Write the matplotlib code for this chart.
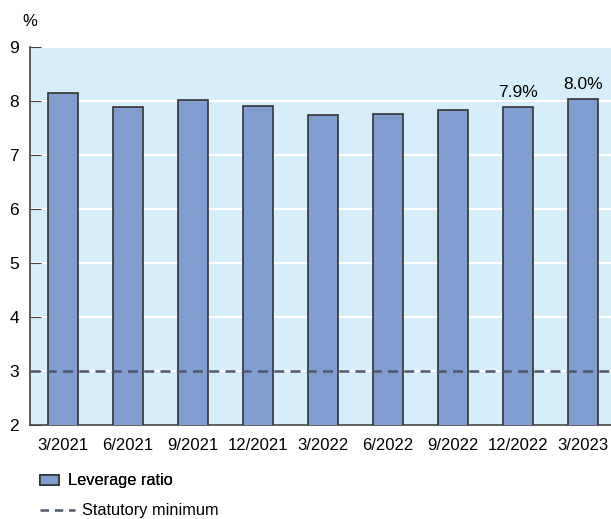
import matplotlib.pyplot as plt
from matplotlib.patches import Patch
from matplotlib.lines import Line2D

plt.rcParams['font.family'] = ['Liberation Sans', 'DejaVu Sans']

quarters = ['3/2021', '6/2021', '9/2021', '12/2021', '3/2022',
            '6/2022', '9/2022', '12/2022', '3/2023']
leverage = [8.15, 7.89, 8.02, 7.91, 7.75, 7.76, 7.83, 7.89, 8.04]
statutory_min = 3.0
labels = {7: '7.9%', 8: '8.0%'}

bar_color = '#809fd0'
dash_color = '#4d5868'

fig = plt.figure(figsize=(6.11, 5.19), dpi=100)
ax = fig.add_axes([30 / 611, 94 / 519, 581 / 611, 378 / 519])
ax.set_facecolor('#d6edfa')

x = range(len(quarters))
ax.bar(x, leverage, width=0.46, color=bar_color,
       edgecolor='#333333', linewidth=1.2, zorder=3)
ax.axhline(statutory_min, color=dash_color, linestyle=(0, (4, 2.5)),
           linewidth=1.8, zorder=4)

for i, txt in labels.items():
    ax.text(i, leverage[i] + 0.12, txt, ha='center', va='bottom', fontsize=12.5)

ax.set_ylim(2, 9)
ax.set_xlim(-0.51, 8.43)
ax.set_yticks(range(2, 10))
ax.grid(axis='y', color='white', linewidth=1.5, zorder=1)
ax.set_xticks(list(x))
ax.set_xticklabels(quarters)
ax.tick_params(axis='y', direction='in', length=8, color='#444444',
               labelsize=12.5, pad=8)
ax.tick_params(axis='x', length=0, labelsize=12, pad=9)
for s in ['top', 'right']:
    ax.spines[s].set_visible(False)
for s in ['left', 'bottom']:
    ax.spines[s].set_color('#444444')
    ax.spines[s].set_linewidth(1.2)

fig.text(30 / 611, 1 - 22 / 519, '%', fontsize=12, ha='center', va='center')

# legend: two entries with different handle widths
leg1 = fig.legend([Patch(facecolor=bar_color, edgecolor='#333333', linewidth=1.2)],
                  ['Leverage ratio'], loc='center left',
                  bbox_to_anchor=(40 / 611, 1 - 481 / 519), frameon=False,
                  fontsize=11.8, handlelength=1.15, handleheight=0.6,
                  handletextpad=0.55, borderaxespad=0, borderpad=0)
fig.legend([Line2D([0], [0], color=dash_color, linestyle=(0, (3.4, 2.3)), linewidth=1.8)],
           ['Statutory minimum'], loc='center left',
           bbox_to_anchor=(40 / 611, 1 - 511 / 519), frameon=False,
           fontsize=11.8, handlelength=2.15, handletextpad=0.4,
           borderaxespad=0, borderpad=0)
fig.add_artist(leg1)

fig.savefig('out.png', dpi=100)
